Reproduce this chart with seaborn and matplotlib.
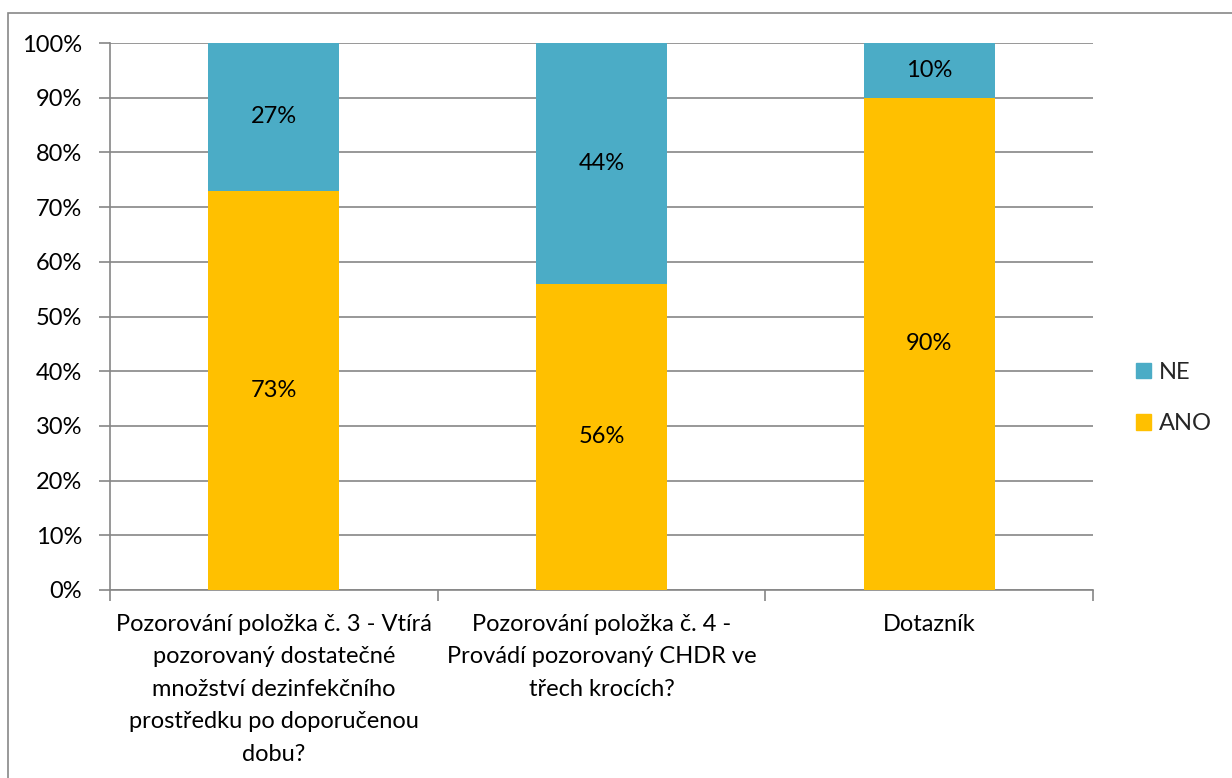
import matplotlib
matplotlib.use("Agg")
import matplotlib.pyplot as plt
import seaborn as sns
import pandas as pd
from matplotlib.patches import Rectangle
from matplotlib.ticker import PercentFormatter

categories = [
    "Pozorování položka č. 3 - Vtírá\npozorovaný dostatečné\nmnožství dezinfekčního\nprostředku po doporučenou\ndobu?",
    "Pozorování položka č. 4 -\nProvádí pozorovaný CHDR ve\ntřech krocích?",
    "Dotazník",
]
ano = [73, 56, 90]
ne = [27, 44, 10]

ANO_COLOR = "#FFC000"
NE_COLOR = "#4BACC6"
GRID = "#868686"

sns.set_theme(style="white")
plt.rcParams['font.family'] = ['Lato', 'DejaVu Sans']
FS = 17

df = pd.DataFrame({"cat": categories, "ANO": ano, "NE": ne})

fig = plt.figure(figsize=(12.32, 7.78), dpi=100)
ax = fig.add_axes([110/1232, 1-590/778, (1093-110)/1232, (590-43)/778])

sns.barplot(data=df, x="cat", y="ANO", color=ANO_COLOR, width=0.4, ax=ax,
            saturation=1, linewidth=0, zorder=3)
sns.barplot(data=df, x="cat", y="NE", color=NE_COLOR, width=0.4, ax=ax,
            saturation=1, bottom=df["ANO"], linewidth=0, zorder=3)
if ax.get_legend() is not None:
    ax.get_legend().remove()

for i, (a, n) in enumerate(zip(ano, ne)):
    ax.text(i, a/2, f"{a}%", ha="center", va="center", fontsize=FS, color="black", zorder=4)
    ax.text(i, a + n/2, f"{n}%", ha="center", va="center", fontsize=FS, color="black", zorder=4)

ax.set_ylim(0, 100)
ax.set_xlim(-0.5, 2.5)
ax.set_yticks(range(0, 101, 10))
ax.yaxis.set_major_formatter(PercentFormatter(decimals=0))
ax.yaxis.grid(True, color=GRID, linewidth=1.2, zorder=0)
ax.set_axisbelow(True)
ax.set_xlabel("")
ax.set_ylabel("")

for s in ["top", "right"]:
    ax.spines[s].set_visible(False)
for s in ["left", "bottom"]:
    ax.spines[s].set_color(GRID)
    ax.spines[s].set_linewidth(1.2)

ax.tick_params(axis="y", which="both", left=True, length=8, width=1.2, color=GRID,
               labelsize=FS, pad=12, labelcolor="black")
ax.set_xticks([0, 1, 2])
ax.set_xticklabels(categories, fontsize=FS, linespacing=1.68, color="black", va="top")
ax.tick_params(axis="x", which="major", bottom=False, pad=11)
ax.set_xticks([-0.5, 0.5, 1.5, 2.5], minor=True)
ax.tick_params(axis="x", which="minor", bottom=True, length=8, width=1.2, color=GRID)

handles = [Rectangle((0, 0), 1, 1, color=NE_COLOR), Rectangle((0, 0), 1, 1, color=ANO_COLOR)]
fig.legend(handles, ["NE", "ANO"], loc="center left", bbox_to_anchor=(1115/1232, 1-398/778),
           frameon=False, fontsize=FS, handlelength=0.64, handleheight=0.64,
           handletextpad=0.33, labelspacing=1.3)

fig.patches.append(Rectangle((8/1232, -0.05), 1.2, (778-13)/778 + 0.05, transform=fig.transFigure,
                             fill=False, edgecolor="#888888", linewidth=1.2))

fig.savefig("out.png", dpi=100)
